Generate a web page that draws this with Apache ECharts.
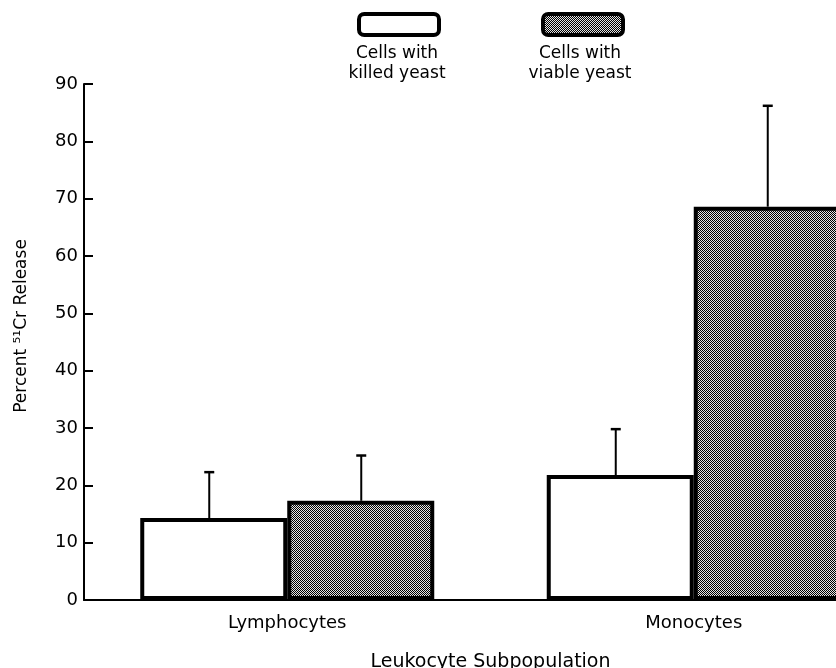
<!DOCTYPE html>
<html>
<head>
<meta charset="utf-8">
<script src="https://cdn.jsdelivr.net/npm/echarts@6/dist/echarts.min.js"></script>
<style>html,body{margin:0;padding:0;background:#fff}#c{width:836px;height:668px}</style>
</head>
<body>
<div id="c"></div>
<script>
const categories = ['Lymphocytes', 'Monocytes'];
const seriesNames = ['Cells with killed yeast', 'Cells with viable yeast'];
const killed = [14.3, 21.8];
const viable = [17.3, 68.6];
const killedSD = [8.0, 8.0];
const viableSD = [7.9, 17.6];
const yTicks = [0, 10, 20, 30, 40, 50, 60, 70, 80, 90];

const FONT = '"DejaVu Sans", Verdana, sans-serif';

function makePattern() {
  const c = document.createElement('canvas');
  c.width = 2; c.height = 2;
  const g = c.getContext('2d');
  g.fillStyle = '#e4e4e4'; g.fillRect(0, 0, 2, 2);
  g.fillStyle = '#000'; g.fillRect(0, 0, 1, 1); g.fillRect(1, 1, 1, 1);
  return c;
}
const pattern = { image: makePattern(), repeat: 'repeat' };

function errRender(offset) {
  return function (params, api) {
    const ci = api.value(0), top = api.value(1), hi = api.value(2);
    const p0 = api.coord([ci, top]);
    const p1 = api.coord([ci, hi]);
    const x = p0[0] + offset;
    return {
      type: 'group',
      children: [
        { type: 'line', shape: { x1: x, y1: p0[1], x2: x, y2: p1[1] }, style: { stroke: '#000', lineWidth: 2 } },
        { type: 'line', shape: { x1: x - 5, y1: p1[1], x2: x + 5, y2: p1[1] }, style: { stroke: '#000', lineWidth: 2.5 } }
      ]
    };
  };
}

const chart = echarts.init(document.getElementById('c'), null, { renderer: 'canvas' });
chart.setOption({
  animation: false,
  backgroundColor: '#fff',
  textStyle: { fontFamily: FONT, color: '#000' },
  legend: [
    {
      data: [seriesNames[0]], left: 357, top: 12, itemWidth: 80, itemHeight: 21,
      icon: 'roundRect', formatter: () => '', selectedMode: false, padding: 0,
      itemStyle: { borderWidth: 4, borderColor: '#000', color: '#fff' }
    },
    {
      data: [seriesNames[1]], left: 541, top: 12, itemWidth: 80, itemHeight: 21,
      icon: 'roundRect', formatter: () => '', selectedMode: false, padding: 0,
      itemStyle: { borderWidth: 4, borderColor: '#000', color: pattern }
    }
  ],
  graphic: [
    { type: 'text', x: 397, y: 44, style: { text: 'Cells with\nkilled yeast', font: '17px ' + FONT, fill: '#000', align: 'center', lineHeight: 20 } },
    { type: 'text', x: 580, y: 44, style: { text: 'Cells with\nviable yeast', font: '17px ' + FONT, fill: '#000', align: 'center', lineHeight: 20 } }
  ],
  grid: { left: 84, top: 84, width: 813, height: 516, outerBoundsMode: 'none', containLabel: false },
  xAxis: {
    type: 'category',
    data: categories,
    axisLine: { lineStyle: { color: '#000', width: 2 } },
    axisTick: { show: false },
    axisLabel: { color: '#000', fontSize: 18, margin: 14, fontFamily: FONT },
    name: 'Leukocyte Subpopulation',
    nameLocation: 'middle',
    nameGap: 53,
    nameTextStyle: { color: '#000', fontSize: 19, fontFamily: FONT }
  },
  yAxis: {
    type: 'value',
    min: 0, max: 90, interval: 10,
    axisLine: { show: true, lineStyle: { color: '#000', width: 2 } },
    axisTick: { show: true, inside: true, length: 9, lineStyle: { color: '#000', width: 2 } },
    axisLabel: { color: '#000', fontSize: 18, margin: 6, fontFamily: FONT,
      formatter: v => (yTicks.indexOf(v) >= 0 ? String(v) : '') },
    splitLine: { show: false },
    name: 'Percent \u2075\u00b9Cr Release',
    nameLocation: 'middle',
    nameGap: 54,
    nameRotate: 90,
    nameTextStyle: { color: '#000', fontSize: 17, fontFamily: FONT, padding: [0, 0, 0, 32] }
  },
  series: [
    {
      name: seriesNames[0], type: 'bar', data: killed, barWidth: 147, barGap: '0%',
      itemStyle: { color: '#fff', borderColor: '#000', borderWidth: 4 }, z: 2
    },
    {
      name: seriesNames[1], type: 'bar', data: viable, barWidth: 147, barGap: '0%',
      itemStyle: { color: pattern, borderColor: '#000', borderWidth: 4 }, z: 2
    },
    {
      name: 'killed SD', type: 'custom', renderItem: errRender(-78),
      data: killed.map((v, i) => [i, v, v + killedSD[i]]),
      encode: { x: 0, y: [1, 2] }, z: 3, silent: true
    },
    {
      name: 'viable SD', type: 'custom', renderItem: errRender(74),
      data: viable.map((v, i) => [i, v, v + viableSD[i]]),
      encode: { x: 0, y: [1, 2] }, z: 3, silent: true
    }
  ]
});
</script>
</body>
</html>
